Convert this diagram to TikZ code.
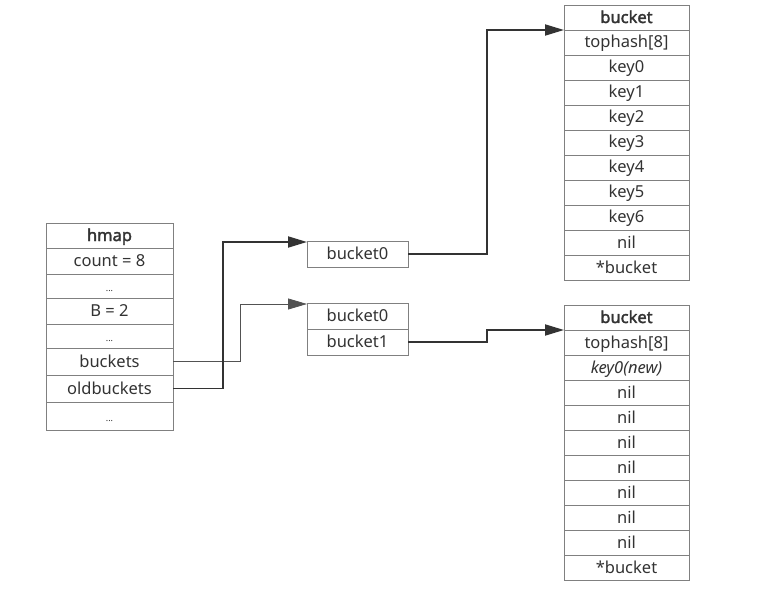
\documentclass[tikz,border=0pt]{standalone}
\usepackage{fontspec}
\setmainfont{Noto Sans}
\newfontfamily\headfont{Noto Sans}[FakeBold=2]
\usetikzlibrary{
    positioning,   % Relative positioning
    arrows.meta    % Modern arrow tips
}
\definecolor{cellgray}{HTML}{808080}
\definecolor{inkgray}{HTML}{333333}
\definecolor{wiregray}{HTML}{333333}

\tikzset{
    cell/.style={draw=cellgray, fill=white, line width=0.9pt, inner sep=0pt, outer sep=0pt,
        text=inkgray, font=\fontsize{16.5}{19}\selectfont,
        minimum height=25, text height=13, text depth=2},
    hcell/.style={cell, minimum width=127},
    midcell/.style={cell, minimum width=101, minimum height=26},
    bcell/.style={cell, minimum width=125},
    headcell/.style={font=\headfont\fontsize{16.5}{19}\selectfont},
    bigptr/.style={-{Triangle[length=19pt,width=11pt]}, line width=1.9pt, draw=wiregray},
    thinptr/.style={-{Triangle[length=19pt,width=11pt]}, line width=0.8pt, draw=wiregray!85}
}
\newcommand{\dotsmall}{{\fontsize{9}{9}\selectfont ...}}

\begin{document}
\begin{tikzpicture}[x=1pt,y=-1pt]
    \useasboundingbox (0,0) rectangle (764,591);

    % hmap struct
    \node[hcell, headcell] (hmap) at (109.5,235.5) {hmap};
    \foreach \name/\txt/\rowh [remember=\name as \prev (initially hmap)] in
        {hcount/{count = 8}/26, hdotsa/\dotsmall/24, hB/{B = 2}/26, hdotsb/\dotsmall/24,
         hbuckets/buckets/27, holdbuckets/oldbuckets/27, hdotsc/\dotsmall/28}
        \node[hcell, minimum height=\rowh, below=0pt of \prev] (\name) {\txt};

    % bucket arrays
    \node[midcell] (ob0) at (357.5,254) {bucket0};
    \node[midcell] (nb0) at (357.5,316) {bucket0};
    \node[midcell, below=0pt of nb0] (nb1) {bucket1};

    % old bucket
    \node[bcell, headcell] (ta0) at (626.5,17.5) {bucket};
    \foreach \txt [count=\i, remember=\i as \j (initially 0)] in
        {tophash[8], key0, key1, key2, key3, key4, key5, key6, nil, *bucket}
        \node[bcell, below=0pt of ta\j] (ta\i) {\txt};

    % new bucket
    \node[bcell, headcell] (tb0) at (626.5,317.5) {bucket};
    \foreach \txt [count=\i, remember=\i as \j (initially 0)] in
        {tophash[8], \textit{key0(new)}, nil, nil, nil, nil, nil, nil, nil, *bucket}
        \node[bcell, below=0pt of tb\j] (tb\i) {\txt};

    % pointers
    \draw[thinptr] (hbuckets.east) -- ++(67,0) |- ([yshift=-1pt]nb0.north west);
    \draw[bigptr] (holdbuckets.east) -- ++(50,0) |- ([yshift=-1pt]ob0.north west);
    \draw[bigptr] (ob0.east) -- ++(79,0) |- (ta0.south west);
    \draw[bigptr] (nb1.east) -- ++(79,0) |- (tb0.south west);
\end{tikzpicture}
\end{document}
